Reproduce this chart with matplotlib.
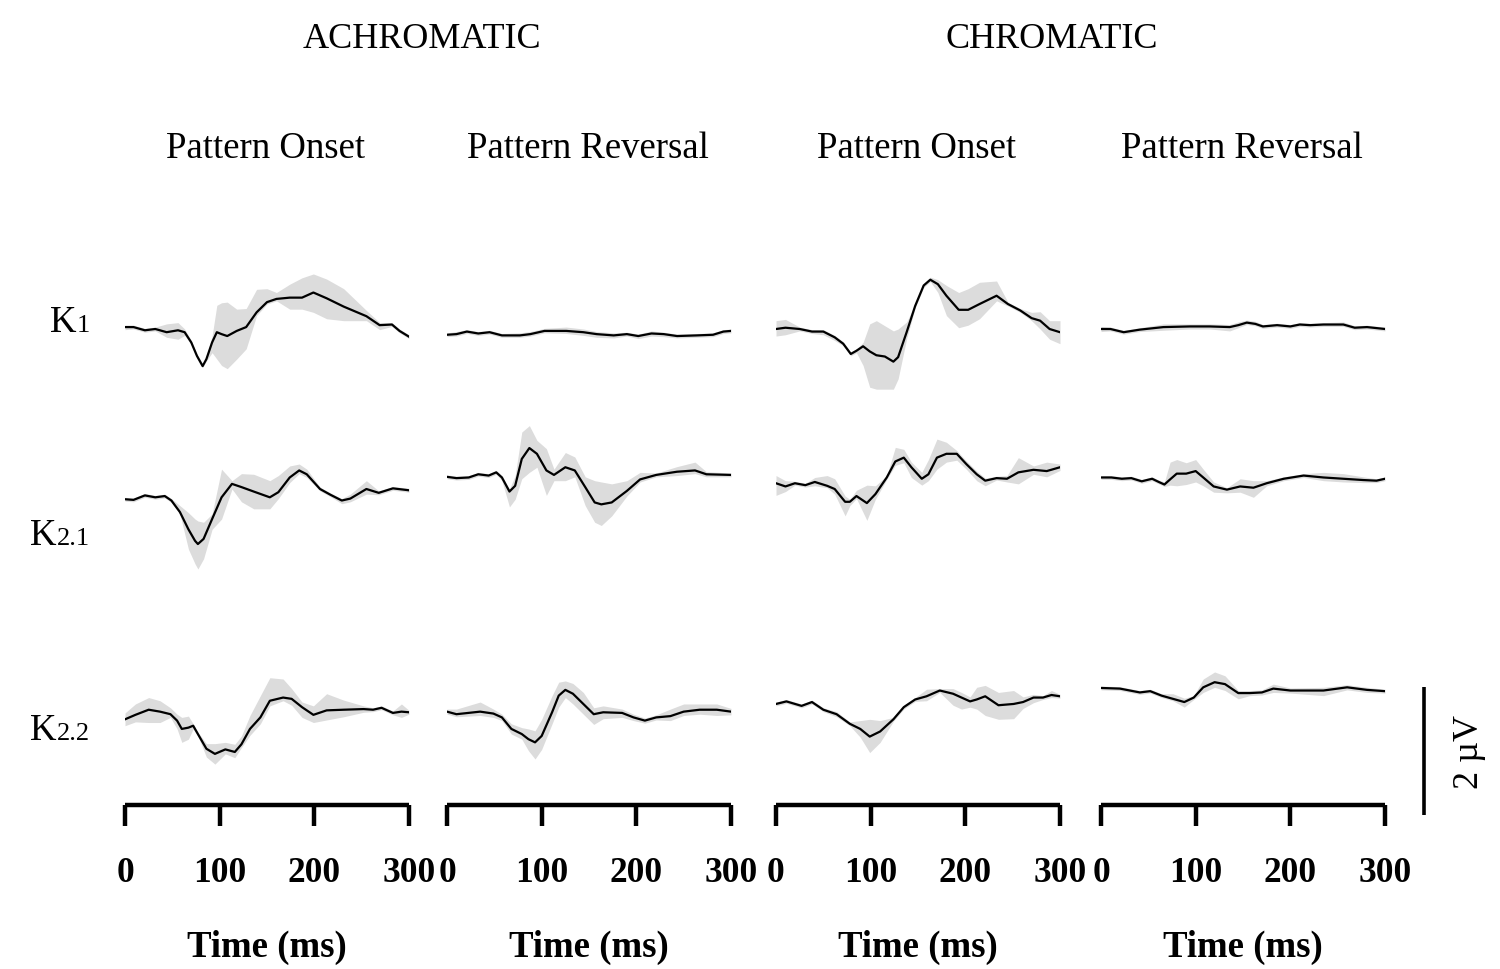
import matplotlib
matplotlib.use("Agg")
import matplotlib.pyplot as plt
import matplotlib.transforms as mtransforms

plt.rcParams['font.family'] = ['Liberation Serif', 'DejaVu Serif']

# ---------------- data (µV, time in ms) ----------------
conditions = ["ACHROMATIC", "CHROMATIC"]
stimuli = ["Pattern Onset", "Pattern Reversal", "Pattern Onset", "Pattern Reversal"]
kernels = ["K", "K", "K"]
kernel_subs = ["1", "2.1", "2.2"]
xticks = [0, 100, 200, 300]
scale_uv = 2

# Achromatic onset K1
t_a_on_k1 = [0, 9, 21, 32, 44, 56, 63, 70, 76, 82, 86, 92, 97, 102, 108, 118, 128, 139, 150, 160, 174, 187, 199, 213, 231, 255, 269, 282, 290, 300]
v_a_on_k1 = [0.03, 0.03, -0.02, 0.00, -0.05, -0.02, -0.05, -0.21, -0.42, -0.58, -0.47, -0.21, -0.05, -0.08, -0.11, -0.03, 0.03, 0.26, 0.42, 0.47, 0.49, 0.49, 0.57, 0.48, 0.35, 0.20, 0.06, 0.07, -0.03, -0.12]
up_a_on_k1 = [0.03, 0.03, 0.03, 0.03, 0.13, 0.12, 0.05, 0.03, 0.03, 0.04, 0.03, 0.10, 0.42, 0.49, 0.53, 0.34, 0.29, 0.36, 0.21, 0.10, 0.21, 0.31, 0.29, 0.30, 0.28, 0.09, 0.04, 0.03, 0.03, 0.03]
dn_a_on_k1 = [0.04, 0.03, 0.03, 0.03, 0.08, 0.14, 0.05, 0.03, 0.03, 0.02, 0.03, 0.16, 0.42, 0.49, 0.51, 0.44, 0.34, 0.05, 0.03, 0.03, 0.18, 0.18, 0.31, 0.32, 0.22, 0.07, 0.07, 0.03, 0.03, 0.03]

# Achromatic reversal K1
t_a_rv_k1 = [0, 10, 21, 33, 45, 58, 77, 88, 103, 126, 144, 158, 176, 190, 202, 216, 229, 243, 264, 281, 292, 300]
v_a_rv_k1 = [-0.09, -0.08, -0.04, -0.07, -0.05, -0.10, -0.10, -0.08, -0.03, -0.03, -0.05, -0.08, -0.10, -0.08, -0.11, -0.07, -0.08, -0.11, -0.10, -0.09, -0.04, -0.03]
up_a_rv_k1 = [0.03, 0.04, 0.03, 0.03, 0.03, 0.03, 0.04, 0.04, 0.04, 0.06, 0.05, 0.04, 0.04, 0.03, 0.03, 0.04, 0.03, 0.03, 0.03, 0.03, 0.03, 0.03]
dn_a_rv_k1 = [0.03, 0.03, 0.03, 0.03, 0.03, 0.03, 0.03, 0.03, 0.03, 0.04, 0.05, 0.05, 0.04, 0.03, 0.04, 0.04, 0.04, 0.03, 0.03, 0.03, 0.03, 0.03]

# Chromatic onset K1
t_c_on_k1 = [0, 10, 25, 38, 50, 62, 71, 79, 85, 92, 99, 106, 115, 124, 129, 138, 147, 156, 163, 171, 180, 193, 203, 215, 233, 245, 258, 270, 279, 289, 300]
v_c_on_k1 = [0.00, 0.02, 0.00, -0.04, -0.04, -0.13, -0.23, -0.39, -0.34, -0.27, -0.35, -0.41, -0.43, -0.51, -0.44, -0.05, 0.36, 0.68, 0.77, 0.70, 0.52, 0.30, 0.30, 0.39, 0.52, 0.39, 0.29, 0.17, 0.13, 0.00, -0.05]
up_c_on_k1 = [0.13, 0.13, 0.03, 0.03, 0.03, 0.03, 0.03, 0.03, 0.03, 0.06, 0.43, 0.54, 0.48, 0.48, 0.44, 0.16, 0.03, 0.03, 0.04, 0.07, 0.16, 0.27, 0.33, 0.34, 0.23, 0.03, 0.03, 0.09, 0.14, 0.13, 0.18]
dn_c_on_k1 = [0.11, 0.11, 0.03, 0.03, 0.05, 0.05, 0.03, 0.03, 0.03, 0.30, 0.56, 0.53, 0.51, 0.43, 0.34, 0.10, 0.03, 0.03, 0.03, 0.13, 0.31, 0.28, 0.24, 0.23, 0.08, 0.03, 0.03, 0.04, 0.13, 0.16, 0.18]

# Chromatic reversal K1
t_c_rv_k1 = [0, 10, 24, 41, 66, 94, 115, 136, 145, 154, 163, 171, 186, 200, 210, 221, 235, 256, 268, 281, 300]
v_c_rv_k1 = [0.00, 0.00, -0.05, -0.01, 0.03, 0.04, 0.04, 0.03, 0.06, 0.10, 0.08, 0.04, 0.06, 0.04, 0.07, 0.06, 0.07, 0.07, 0.02, 0.03, 0.00]
up_c_rv_k1 = [0.04, 0.03, 0.03, 0.03, 0.05, 0.04, 0.04, 0.04, 0.05, 0.04, 0.04, 0.03, 0.03, 0.03, 0.03, 0.03, 0.03, 0.04, 0.03, 0.03, 0.03]
dn_c_rv_k1 = [0.04, 0.03, 0.03, 0.03, 0.05, 0.04, 0.04, 0.06, 0.04, 0.03, 0.03, 0.03, 0.03, 0.03, 0.03, 0.03, 0.03, 0.03, 0.03, 0.03, 0.03]

# Achromatic onset K2.1
t_a_on_k21 = [0, 9, 21, 32, 42, 49, 58, 67, 74, 77, 83, 92, 102, 113, 123, 136, 153, 162, 174, 184, 192, 206, 217, 229, 238, 255, 268, 283, 300]
v_a_on_k21 = [-0.16, -0.17, -0.10, -0.13, -0.11, -0.18, -0.36, -0.63, -0.81, -0.86, -0.78, -0.47, -0.13, 0.08, 0.03, -0.04, -0.13, -0.05, 0.18, 0.29, 0.23, 0.00, -0.09, -0.18, -0.15, 0.00, -0.06, 0.01, -0.02]
up_a_on_k21 = [0.03, 0.03, 0.03, 0.03, 0.03, 0.03, 0.10, 0.26, 0.34, 0.36, 0.26, 0.08, 0.44, 0.05, 0.21, 0.27, 0.26, 0.26, 0.18, 0.10, 0.08, 0.03, 0.03, 0.03, 0.07, 0.13, 0.03, 0.03, 0.03]
dn_a_on_k21 = [0.03, 0.03, 0.03, 0.03, 0.03, 0.03, 0.03, 0.31, 0.36, 0.39, 0.31, 0.16, 0.34, 0.08, 0.23, 0.27, 0.18, 0.10, 0.08, 0.05, 0.05, 0.03, 0.03, 0.05, 0.05, 0.08, 0.03, 0.03, 0.03]

# Achromatic reversal K2.1
t_a_rv_k21 = [0, 10, 23, 33, 44, 52, 58, 66, 72, 79, 87, 95, 105, 113, 125, 135, 146, 156, 163, 174, 190, 204, 221, 243, 262, 274, 300]
v_a_rv_k21 = [0.19, 0.17, 0.18, 0.23, 0.21, 0.26, 0.18, -0.04, 0.05, 0.47, 0.64, 0.55, 0.29, 0.22, 0.34, 0.29, 0.03, -0.21, -0.24, -0.21, -0.03, 0.15, 0.22, 0.27, 0.29, 0.23, 0.22]
up_a_rv_k21 = [0.03, 0.03, 0.03, 0.03, 0.03, 0.03, 0.03, 0.04, 0.16, 0.42, 0.35, 0.21, 0.34, 0.09, 0.23, 0.21, 0.16, 0.34, 0.35, 0.29, 0.16, 0.11, 0.03, 0.08, 0.13, 0.04, 0.03]
dn_a_rv_k21 = [0.03, 0.03, 0.03, 0.03, 0.03, 0.03, 0.05, 0.24, 0.21, 0.31, 0.38, 0.21, 0.39, 0.09, 0.21, 0.10, 0.29, 0.31, 0.33, 0.21, 0.08, 0.04, 0.03, 0.06, 0.05, 0.04, 0.03]

# Chromatic onset K2.1
t_c_on_k21 = [0, 10, 20, 31, 41, 54, 62, 73, 78, 85, 96, 105, 117, 126, 135, 143, 154, 161, 170, 180, 191, 201, 212, 221, 233, 244, 256, 272, 286, 300]
v_c_on_k21 = [0.09, 0.04, 0.09, 0.06, 0.11, 0.05, 0.00, -0.20, -0.20, -0.11, -0.22, -0.08, 0.18, 0.43, 0.49, 0.34, 0.16, 0.23, 0.49, 0.55, 0.55, 0.39, 0.23, 0.13, 0.17, 0.16, 0.26, 0.30, 0.28, 0.34]
up_c_on_k21 = [0.12, 0.09, 0.03, 0.03, 0.07, 0.16, 0.16, 0.09, 0.04, 0.09, 0.28, 0.13, 0.03, 0.22, 0.13, 0.08, 0.10, 0.23, 0.29, 0.18, 0.05, 0.05, 0.05, 0.04, 0.03, 0.05, 0.23, 0.06, 0.14, 0.05]
dn_c_on_k21 = [0.19, 0.08, 0.03, 0.03, 0.06, 0.03, 0.08, 0.22, 0.06, 0.04, 0.27, 0.08, 0.03, 0.06, 0.08, 0.16, 0.10, 0.10, 0.18, 0.13, 0.10, 0.08, 0.10, 0.08, 0.03, 0.05, 0.18, 0.07, 0.09, 0.05]

# Chromatic reversal K2.1
t_c_rv_k21 = [0, 11, 22, 32, 43, 54, 61, 67, 73, 80, 90, 100, 108, 119, 133, 147, 161, 175, 193, 214, 235, 256, 277, 291, 300]
v_c_rv_k21 = [0.18, 0.18, 0.16, 0.17, 0.12, 0.16, 0.11, 0.07, 0.15, 0.24, 0.24, 0.28, 0.18, 0.04, -0.01, 0.04, 0.02, 0.09, 0.16, 0.21, 0.18, 0.16, 0.14, 0.13, 0.16]
up_c_rv_k21 = [0.03, 0.03, 0.03, 0.03, 0.03, 0.03, 0.03, 0.04, 0.27, 0.22, 0.17, 0.18, 0.13, 0.07, 0.03, 0.12, 0.11, 0.04, 0.03, 0.03, 0.08, 0.08, 0.05, 0.03, 0.03]
dn_c_rv_k21 = [0.03, 0.03, 0.03, 0.03, 0.03, 0.03, 0.03, 0.03, 0.09, 0.19, 0.17, 0.17, 0.13, 0.09, 0.05, 0.09, 0.15, 0.04, 0.03, 0.03, 0.05, 0.05, 0.04, 0.03, 0.03]

# Achromatic onset K2.2
t_a_on_k22 = [0, 11, 25, 37, 48, 55, 60, 67, 72, 77, 86, 95, 106, 116, 123, 132, 143, 153, 167, 176, 187, 199, 213, 231, 252, 262, 271, 283, 292, 300]
v_a_on_k22 = [-0.13, -0.06, 0.02, -0.01, -0.05, -0.15, -0.28, -0.26, -0.23, -0.36, -0.59, -0.67, -0.60, -0.64, -0.52, -0.28, -0.10, 0.16, 0.21, 0.19, 0.06, -0.06, 0.01, 0.02, 0.03, 0.02, 0.05, -0.03, -0.01, -0.02]
up_a_on_k22 = [0.10, 0.17, 0.19, 0.17, 0.10, 0.10, 0.18, 0.18, 0.03, 0.03, 0.08, 0.16, 0.11, 0.12, 0.13, 0.21, 0.34, 0.36, 0.29, 0.16, 0.08, 0.14, 0.26, 0.15, 0.05, 0.03, 0.03, 0.03, 0.12, 0.03]
dn_a_on_k22 = [0.10, 0.11, 0.20, 0.17, 0.05, 0.13, 0.21, 0.18, 0.05, 0.03, 0.13, 0.16, 0.07, 0.09, 0.05, 0.10, 0.10, 0.08, 0.05, 0.10, 0.16, 0.12, 0.15, 0.11, 0.05, 0.03, 0.03, 0.03, 0.09, 0.03]

# Achromatic reversal K2.2
t_a_rv_k22 = [0, 10, 35, 49, 58, 68, 79, 86, 93, 100, 111, 118, 125, 133, 144, 155, 165, 185, 197, 209, 221, 236, 250, 267, 285, 300]
v_a_rv_k22 = [-0.01, -0.05, -0.01, -0.04, -0.10, -0.28, -0.36, -0.44, -0.49, -0.39, -0.02, 0.24, 0.33, 0.27, 0.11, -0.05, -0.02, -0.03, -0.10, -0.15, -0.10, -0.08, -0.01, 0.02, 0.02, -0.01]
up_a_rv_k22 = [0.04, 0.08, 0.15, 0.07, 0.05, 0.08, 0.10, 0.16, 0.18, 0.26, 0.26, 0.21, 0.14, 0.16, 0.18, 0.10, 0.10, 0.06, 0.05, 0.04, 0.04, 0.11, 0.12, 0.09, 0.09, 0.05]
dn_a_rv_k22 = [0.04, 0.04, 0.06, 0.06, 0.05, 0.08, 0.08, 0.18, 0.26, 0.21, 0.18, 0.18, 0.12, 0.16, 0.16, 0.16, 0.10, 0.07, 0.05, 0.04, 0.04, 0.07, 0.06, 0.07, 0.09, 0.05]

# Chromatic onset K2.2
t_c_on_k22 = [0, 11, 27, 38, 50, 64, 78, 89, 99, 110, 124, 135, 147, 159, 173, 187, 196, 205, 212, 221, 235, 251, 261, 272, 282, 291, 300]
v_c_on_k22 = [0.11, 0.15, 0.08, 0.14, 0.02, -0.05, -0.20, -0.28, -0.40, -0.32, -0.13, 0.06, 0.18, 0.23, 0.32, 0.27, 0.21, 0.15, 0.18, 0.23, 0.09, 0.11, 0.14, 0.21, 0.21, 0.25, 0.23]
up_c_on_k22 = [0.03, 0.03, 0.03, 0.03, 0.03, 0.04, 0.03, 0.13, 0.27, 0.17, 0.03, 0.03, 0.03, 0.11, 0.03, 0.08, 0.08, 0.07, 0.19, 0.17, 0.20, 0.21, 0.08, 0.05, 0.03, 0.07, 0.03]
dn_c_on_k22 = [0.03, 0.03, 0.03, 0.03, 0.03, 0.04, 0.03, 0.13, 0.25, 0.17, 0.03, 0.03, 0.03, 0.07, 0.03, 0.18, 0.18, 0.09, 0.15, 0.30, 0.22, 0.23, 0.10, 0.08, 0.03, 0.04, 0.03]

# Chromatic reversal K2.2
t_c_rv_k22 = [0, 20, 41, 52, 64, 76, 88, 98, 108, 120, 131, 145, 157, 170, 182, 200, 235, 260, 281, 300]
v_c_rv_k22 = [0.36, 0.35, 0.29, 0.31, 0.24, 0.19, 0.14, 0.21, 0.37, 0.45, 0.42, 0.28, 0.28, 0.29, 0.35, 0.32, 0.32, 0.37, 0.33, 0.31]
up_c_rv_k22 = [0.03, 0.03, 0.03, 0.03, 0.03, 0.08, 0.06, 0.03, 0.13, 0.16, 0.13, 0.04, 0.04, 0.04, 0.07, 0.04, 0.05, 0.04, 0.04, 0.03]
dn_c_rv_k22 = [0.03, 0.03, 0.03, 0.03, 0.03, 0.03, 0.08, 0.03, 0.08, 0.08, 0.10, 0.09, 0.04, 0.04, 0.06, 0.04, 0.08, 0.04, 0.04, 0.03]

panels = [
    [(t_a_on_k1, v_a_on_k1, up_a_on_k1, dn_a_on_k1),
     (t_a_on_k21, v_a_on_k21, up_a_on_k21, dn_a_on_k21),
     (t_a_on_k22, v_a_on_k22, up_a_on_k22, dn_a_on_k22)],
    [(t_a_rv_k1, v_a_rv_k1, up_a_rv_k1, dn_a_rv_k1),
     (t_a_rv_k21, v_a_rv_k21, up_a_rv_k21, dn_a_rv_k21),
     (t_a_rv_k22, v_a_rv_k22, up_a_rv_k22, dn_a_rv_k22)],
    [(t_c_on_k1, v_c_on_k1, up_c_on_k1, dn_c_on_k1),
     (t_c_on_k21, v_c_on_k21, up_c_on_k21, dn_c_on_k21),
     (t_c_on_k22, v_c_on_k22, up_c_on_k22, dn_c_on_k22)],
    [(t_c_rv_k1, v_c_rv_k1, up_c_rv_k1, dn_c_rv_k1),
     (t_c_rv_k21, v_c_rv_k21, up_c_rv_k21, dn_c_rv_k21),
     (t_c_rv_k22, v_c_rv_k22, up_c_rv_k22, dn_c_rv_k22)],
]

# ---------------- layout ----------------
W, H = 1500, 970
fig = plt.figure(figsize=(W / 100, H / 100), dpi=100)

col_x0 = [125, 447, 776, 1101]     # pixel of t=0
col_w = 284                         # pixels for 300 ms
ax_top, ax_bot = 230, 806           # pixel rows
ymax = (ax_bot - ax_top) / 64.0     # 64 px per µV
row_offset = [(ax_bot - 330) / 64.0, (ax_bot - 490) / 64.0, (ax_bot - 712) / 64.0]

band_color = '#dcdcdc'
axes = []
for c in range(4):
    ax = fig.add_axes([col_x0[c] / W, 1 - ax_bot / H, col_w / W, (ax_bot - ax_top) / H])
    axes.append(ax)
    for r in range(3):
        t, v, up, dn = panels[c][r]
        off = row_offset[r]
        mean = [off + x for x in v]
        hi = [off + x + u for x, u in zip(v, up)]
        lo = [off + x - d for x, d in zip(v, dn)]
        ax.fill_between(t, lo, hi, color=band_color, lw=0, zorder=1)
        ax.plot(t, mean, color='black', lw=1.6, zorder=2, solid_joinstyle='round')
    ax.set_xlim(0, 300)
    ax.set_ylim(0, ymax)
    for s in ['top', 'right', 'left']:
        ax.spines[s].set_visible(False)
    ax.spines['bottom'].set_linewidth(3.2)
    ax.spines['bottom'].set_capstyle('butt')
    ax.set_yticks([])
    ax.set_xticks(xticks)
    ax.set_xticklabels([str(x) for x in xticks], fontsize=25.5, fontweight='bold')
    ax.tick_params(axis='x', direction='out', length=15, width=3.2, pad=22)
    ax.patch.set_alpha(0)
    fig.text((col_x0[c] + col_w / 2) / W, 1 - 947 / H, "Time (ms)", fontsize=26.5,
             fontweight='bold', ha='center', va='center')
    fig.text((col_x0[c] + col_w / 2 - 1) / W, 1 - 149 / H, stimuli[c], fontsize=26.5,
             ha='center', va='center')

fig.text(422 / W, 1 - 39 / H, conditions[0], fontsize=26, ha='center', va='center')
fig.text(1052 / W, 1 - 39 / H, conditions[1], fontsize=26, ha='center', va='center')

# row labels (K with smaller index)
label_pos = [(50, 332), (30, 545), (30, 740)]
for r in range(3):
    x, y = label_pos[r]
    tk = fig.text(x / W, 1 - y / H, kernels[r], fontsize=26.5, ha='left', va='baseline')
    fig.canvas.draw()
    bb = tk.get_window_extent()
    fig.text(bb.x1 / W, 1 - y / H, kernel_subs[r], fontsize=19, ha='left', va='baseline')

# scale bar (2 µV) drawn in data units of last column
ax = axes[3]
trans = mtransforms.blended_transform_factory(ax.transAxes, ax.transData)
bar_x = (1424 - col_x0[3]) / col_w
bar_y0 = (ax_bot - 816) / 64.0
ax.plot([bar_x, bar_x], [bar_y0, bar_y0 + scale_uv], transform=trans, color='black',
        lw=2.6, clip_on=False, solid_capstyle='butt')
ax.text((1470 - col_x0[3]) / col_w, bar_y0 + scale_uv / 2, "2 µV", transform=trans,
        rotation=90, fontsize=26, ha='center', va='center')

fig.savefig("out.png", dpi=100)
